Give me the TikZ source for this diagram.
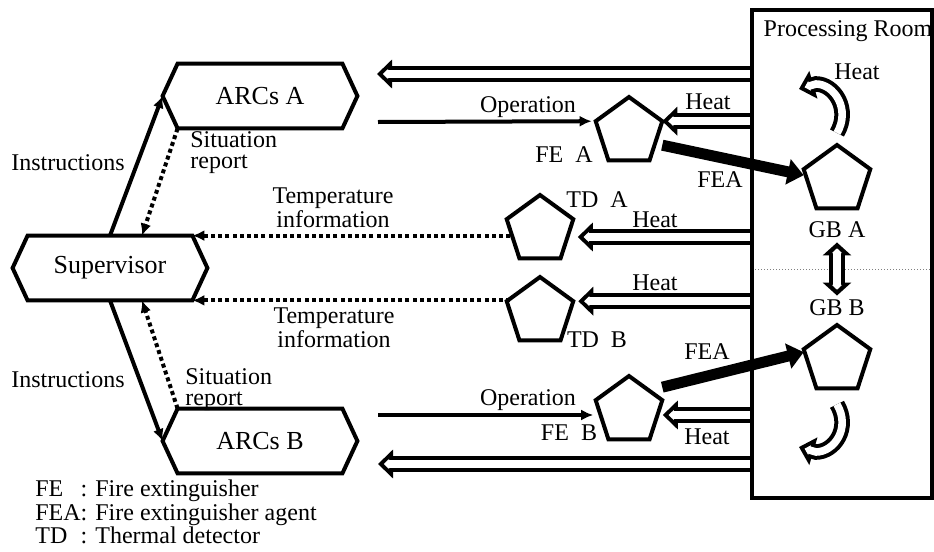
\documentclass[tikz,border=0pt]{standalone}
\usepackage{fontspec}
\setmainfont{Liberation Serif}
\usetikzlibrary{positioning,arrows.meta,shapes.geometric,calc}

\newcommand{\txt}{\fontsize{12pt}{10.5pt}\selectfont}
\newcommand{\boxtxt}{\fontsize{13pt}{15pt}\selectfont}

\tikzset{
  hexbox/.style={minimum width=82pt,minimum height=32pt,inner sep=0pt,font=\boxtxt},
  penta/.style={draw,regular polygon,regular polygon sides=5,minimum size=35pt,inner sep=0pt,outer sep=0pt,line width=2pt},
  lbl/.style={font=\txt,inner sep=2pt},
  ctrl/.style={line width=2pt,-{Latex[length=6pt,width=5.5pt]}},
  info/.style={ctrl,dash pattern=on 2pt off 1.6pt},
  % hollow arrow: black outer pass, white inner pass
  flow/.style={draw=white,line width=3.8pt,-{Triangle[length=2.6pt,width=4.8pt]},shorten >=2.9pt,
    preaction={draw=black,line width=7.8pt,-{Triangle[length=7.5pt,width=14pt]},shorten >=0pt}},
  flowboth/.style={draw=white,line width=3.8pt,{Triangle[length=2.4pt,width=4.8pt]}-{Triangle[length=2.4pt,width=4.8pt]},shorten >=2.9pt,shorten <=2.9pt,
    preaction={draw=black,line width=7.8pt,{Triangle[length=6.5pt,width=14pt]}-{Triangle[length=6.5pt,width=14pt]},shorten >=0pt,shorten <=0pt}},
  agent/.style={line width=5.5pt,-{Triangle[length=8pt,width=12.5pt]}}
}

\begin{document}
\begin{tikzpicture}[x=0.5pt,y=-0.5pt]
	\useasboundingbox (0,0) rectangle (934,552);
	% Hexagon boxes
	\node[hexbox] (ARCA) at (260,96) {ARCs A};
	\node[hexbox] (Sup) at (110,268) {Supervisor};
	\node[hexbox] (ARCB) at (260,441) {ARCs B};
	\foreach \n in {ARCA,Sup,ARCB}
		\draw[line width=2pt] (\n.north west) -- (\n.north east) -- ([xshift=7.5pt]\n.east) -- (\n.south east) -- (\n.south west) -- ([xshift=-7.5pt]\n.west) -- cycle;

	% Processing room
	\node[minimum width=90pt,minimum height=244pt,inner sep=0pt,outer sep=0pt] (room) at (842,254) {};
	\node[lbl] (roomlbl) at (848,31) {Processing Room};
	\draw[gray,densely dotted,line width=0.5pt] ([yshift=-7.5pt]room.west) -- ([yshift=-7.5pt]room.east);

	% Pentagons
	\node[penta] (FEA) at (629,132) {};
	\node[penta] (TDA) at (540,230) {};
	\node[penta] (TDB) at (540,312) {};
	\node[penta] (FEB) at (629,411) {};
	\node[penta] (GBA) at (837,180) {};
	\node[penta] (GBB) at (837,360) {};

	% Labels
	\node[lbl] (instA) at (68,163) {Instructions};
	\node[lbl] (instB) at (68,380) {Instructions};
	\node[lbl,align=left,anchor=west] (sitA) at (186,153) {Situation\\report};
	\node[lbl,align=left,anchor=west] (sitB) at (181,390) {Situation\\report};
	\node[lbl,align=center] (tempA) at (333,208) {Temperature\\information};
	\node[lbl,align=center] (tempB) at (334,328) {Temperature\\information};
	\node[lbl] (opAl) at (528,107) {Operation};
	\node[lbl] (opBl) at (528,400) {Operation};
	\node[lbl] (FEAl) at (564,155) {FE\ \ A};
	\node[lbl] (FEBl) at (569,433) {FE\ \ B};
	\node[lbl] (TDAl) at (597,200) {TD\ \ A};
	\node[lbl] (TDBl) at (597,340) {TD\ \ B};
	\node[lbl] (heat1) at (708,102) {Heat};
	\node[lbl] (heat2) at (655,220) {Heat};
	\node[lbl] (heat3) at (655,283) {Heat};
	\node[lbl] (heat4) at (707,437) {Heat};
	\node[lbl] (heat5) at (857,72) {Heat};
	\node[lbl] (FEAa) at (720,180) {FEA};
	\node[lbl] (FEBa) at (707,352) {FEA};
	\node[lbl] (GBAl) at (837,230) {GB A};
	\node[lbl] (GBBl) at (837,308) {GB B};
	\node[anchor=west,inner sep=0pt,font=\fontsize{12pt}{11pt}\selectfont] (legend) at (35,515)
		{\begin{tabular}{@{}l@{}l@{}}FE & : Fire extinguisher\\FEA & : Fire extinguisher agent\\TD & : Thermal detector\end{tabular}};

	% Supervisor links
	\draw[ctrl] (Sup.north) -- ([xshift=-7.5pt]ARCA.west);
	\draw[info] (ARCA.south west) -- ([xshift=16pt]Sup.north);
	\draw[ctrl] (Sup.south) -- ([xshift=-7.5pt]ARCB.west);
	\draw[info] (ARCB.north west) -- ([xshift=16pt]Sup.south);
	\draw[info] (TDA.west |- Sup.north east) -- (Sup.north east);
	\draw[info] (TDB.west |- Sup.south east) -- (Sup.south east);

	% Operation
	\coordinate (opA) at (378,122);
	\coordinate (opB) at (378,415);
	\draw[ctrl,shorten >=2pt] (opA) -- (FEA.corner 2);
	\draw[ctrl,shorten >=3pt] (opB) -- (opB -| FEB.west);

	% Heat out of the room
	\coordinate (outA) at (377,74);
	\coordinate (outB) at (378,464);
	\draw[flow] (room.west |- outA) -- (outA);
	\draw[flow] (room.west |- outB) -- (outB);
	\coordinate (hTDA) at ([xshift=4pt,yshift=-3.5pt]TDA.east);
	\coordinate (hTDB) at ([xshift=2.5pt]TDB.corner 5);
	\coordinate (hFEB) at ([xshift=2pt,yshift=-2pt]FEB.east);
	\draw[flow] (room.west |- FEA.corner 5) -- (FEA.corner 5);
	\draw[flow] (room.west |- hTDA) -- (hTDA);
	\draw[flow] (room.west |- hTDB) -- (hTDB);
	\draw[flow] (room.west |- hFEB) -- (hFEB);

	% Agent
	\draw[agent] ([yshift=-12pt]FEA.corner 5) -- ([yshift=-3pt]GBA.corner 2);
	\draw[agent] ([yshift=6.5pt]FEB.corner 5) -- ([yshift=-1.5pt]GBB.corner 2);

	% Heat between the boxes
	\draw[flowboth] (GBAl) -- (GBBl);
	\coordinate (heatA) at (799,89);
	\coordinate (heatB) at (799,447);
	\draw[flow] ([yshift=6pt]GBA.corner 1) .. controls +(14,-24) and +(18,0) .. (816,84) -- (heatA);
	\draw[flow] ([yshift=-8pt]GBB.south) .. controls +(14,24) and +(18,0) .. (816,452) -- (heatB);

	% Room wall on top
	\draw[line width=2pt] (room.north west) rectangle (room.south east);
\end{tikzpicture}
\end{document}
